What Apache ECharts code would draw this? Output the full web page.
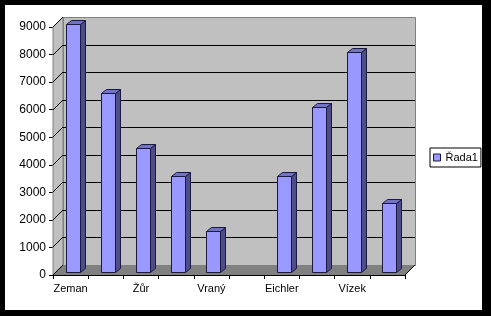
<!DOCTYPE html>
<html>
<head>
<meta charset="utf-8">
<script src="https://cdn.jsdelivr.net/npm/echarts@6/dist/echarts.min.js"></script>
<style>
html,body{margin:0;padding:0;background:#000;}
#wrap{position:relative;width:491px;height:316px;background:#000;overflow:hidden;}
#paper{position:absolute;left:5px;top:5px;width:477px;height:305px;background:#fff;}
#chart{position:absolute;left:0;top:0;width:491px;height:316px;}
</style>
</head>
<body>
<div id="wrap"><div id="paper"></div><div id="chart"></div></div>
<script>
// ---- data ----
var categories = ['Zeman', '', 'Žůr', '', 'Vraný', '', 'Eichler', '', 'Vízek', ''];
var seriesName = 'Řada1';
var values = [9000, 6500, 4500, 3500, 1500, null, 3500, 6000, 8000, 2500];
var yTicks = [0, 1000, 2000, 3000, 4000, 5000, 6000, 7000, 8000, 9000];

var D = 10;          // wall depth (px)
var BDX = 5, BDY = 4; // bar depth
var OX = 2, OY = -3;  // bar placement inside the depth

function renderWalls(params, api) {
  var cs = params.coordSys;
  var x0 = Math.round(cs.x), x1 = Math.round(cs.x + cs.width);
  var y0 = Math.round(cs.y), yb = Math.round(cs.y + cs.height);
  var ch = [];
  ch.push({type:'rect', shape:{x:x0 + D + 0.5, y:y0 - D + 0.5, width:x1 - x0, height:yb - y0},
           style:{fill:'#c0c0c0', stroke:'#808080', lineWidth:1}});
  ch.push({type:'polygon', shape:{points:[[x0,y0],[x0+D,y0-D],[x0+D,yb-D],[x0,yb]]},
           style:{fill:'#c0c0c0', stroke:'#808080', lineWidth:1}});
  ch.push({type:'polygon', shape:{points:[[x0,yb],[x0+D,yb-D],[x1+D,yb-D],[x1,yb]]},
           style:{fill:'#808080', stroke:null}});
  for (var i = 0; i < yTicks.length; i++) {
    var y = Math.round(api.coord([0, yTicks[i]])[1]);
    if (yTicks[i] > 0 && yTicks[i] < yTicks[yTicks.length-1]) {
      ch.push({type:'line', shape:{x1:x0+D, y1:y-D+0.5, x2:x1+D, y2:y-D+0.5},
               style:{stroke:'#000', lineWidth:1}});
    }
    ch.push({type:'line', shape:{x1:x0, y1:y, x2:x0+D, y2:y-D},
             style:{stroke:'#000', lineWidth:1}});
  }
  ch.push({type:'line', shape:{x1:x1, y1:yb, x2:x1+D, y2:yb-D}, style:{stroke:'#000', lineWidth:1}});
  return {type:'group', children:ch, silent:true};
}

function renderBar(params, api) {
  var v = api.value(1);
  if (v == null || isNaN(v)) return null;
  var c = api.coord([api.value(0), v]);
  var b = api.coord([api.value(0), 0]);
  var band = api.size([1, 0])[0];
  var w = Math.round(band * 0.41);
  var xl = Math.round(c[0] - w / 2 + OX) + 0.5, xr = xl + w;
  var yt = Math.round(c[1] + OY) + 0.5, ybt = Math.round(b[1] + OY) + 0.5;
  var st = {stroke:'#1a1a40', lineWidth:1};
  return {type:'group', children:[
    {type:'polygon', shape:{points:[[xr,yt],[xr+BDX,yt-BDY],[xr+BDX,ybt-BDY],[xr,ybt]]},
     style:Object.assign({fill:'#4d4d88'}, st)},
    {type:'polygon', shape:{points:[[xl,yt],[xl+BDX,yt-BDY],[xr+BDX,yt-BDY],[xr,yt]]},
     style:Object.assign({fill:'#7373c4'}, st)},
    {type:'rect', shape:{x:xl, y:yt, width:w, height:ybt-yt},
     style:Object.assign({fill:'#9999ff'}, st)}
  ]};
}

var chart = echarts.init(document.getElementById('chart'), null, {renderer:'canvas'});
chart.setOption({
  backgroundColor:'transparent',
  animation:false,
  textStyle:{fontFamily:'Liberation Sans, Arial, sans-serif'},
  grid:{left:53, right:86, top:27, bottom:41, containLabel:false},
  legend:{
    data:[{name:seriesName, icon:'rect', itemStyle:{color:'#9999ff', borderColor:'#1a1a40', borderWidth:1}}],
    left:430, top:148, orient:'vertical',
    itemWidth:7, itemHeight:7, itemGap:0,
    padding:[4,3,4,3], borderColor:'#000', borderWidth:1,
    textStyle:{fontSize:11, color:'#000'}
  },
  xAxis:{
    type:'category', data:categories,
    axisLine:{show:true, lineStyle:{color:'#000', width:1}},
    axisTick:{show:true, interval:0, length:4, lineStyle:{color:'#000'}},
    axisLabel:{interval:0, color:'#000', fontSize:11, margin:8},
    splitLine:{show:false}
  },
  yAxis:{
    type:'value', min:0, max:9000, interval:1000,
    axisLine:{show:true, lineStyle:{color:'#000', width:1}},
    axisTick:{show:true, length:4, lineStyle:{color:'#000'}},
    axisLabel:{color:'#000', fontSize:12, margin:7, formatter:function(v){ return String(v); }},
    splitLine:{show:false}
  },
  series:[
    {type:'custom', name:'walls', z:1, silent:true, renderItem:renderWalls, data:[[0,0]], legendHoverLink:false},
    {type:'custom', name:seriesName, z:3, renderItem:renderBar,
     itemStyle:{color:'#9999ff'},
     encode:{x:0, y:1},
     data:values.map(function(v,i){ return [i, v]; })}
  ]
});
</script>
</body>
</html>
